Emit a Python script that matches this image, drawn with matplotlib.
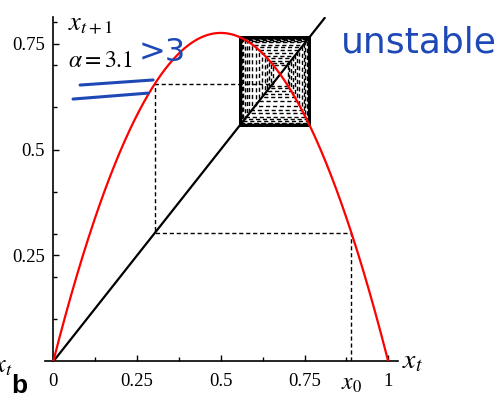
import numpy as np
import matplotlib
matplotlib.use('Agg')
import matplotlib.pyplot as plt

plt.rcParams['mathtext.fontset'] = 'stix'
plt.rcParams['font.family'] = ['Liberation Serif', 'DejaVu Serif']

# data
alpha = 3.1          # logistic map parameter
x0 = 0.89            # starting point
n_iter = 160         # number of cobweb steps
xticks = [0, 0.25, 0.5, 0.75, 1]
xticklabels = ['0', '0.25', '0.5', '0.75', '1']
yticks = [0.25, 0.5, 0.75]
yticklabels = ['0.25', '0.5', '0.75']

ink = '#1d48b5'


def logistic(x, a):
    """ logistic map x_{t+1} = a x_t (1 - x_t) """
    return a * x * (1 - x)


fig = plt.figure(figsize=(5.01, 4.03), dpi=100)
ax = fig.add_axes([0.0896, 0.103, 0.7054, 0.8548])

# a. cobweb
xs, ys = [x0], [0.0]
x = x0
for i in range(n_iter):
    y = logistic(x, alpha)
    xs += [x, y]
    ys += [y, y]
    x = y
ax.plot(xs, ys, color='black', lw=1.0, ls=(0, (3, 2)), zorder=1)

# b. diagonal and map
ax.plot([0, 0.81], [0, 0.81], color='black', lw=1.6, zorder=2)
grid = np.linspace(0, 1, 400)
ax.plot(grid, logistic(grid, alpha), color='red', lw=1.6, zorder=3)

# c. axes
ax.set_xlim(-0.025, 1.03)
ax.set_ylim(0, 0.8125)
for s in ['top', 'right']:
    ax.spines[s].set_visible(False)
ax.spines['left'].set_position(('data', 0))
ax.spines['left'].set_bounds(0, 0.8125)
for s in ['left', 'bottom']:
    ax.spines[s].set_linewidth(1.2)

ax.set_xticks(xticks)
ax.set_xticklabels(xticklabels)
ax.set_xticks(np.arange(0, 1.01, 0.125), minor=True)
ax.set_yticks(yticks)
ax.set_yticklabels(yticklabels)
ax.set_yticks(np.arange(0.1, 0.81, 0.1), minor=True)
ax.tick_params(which='both', direction='in', labelsize=13.5, width=1.0)
ax.tick_params(which='major', length=4)
ax.tick_params(which='minor', length=3)
ax.tick_params(axis='x', which='both', pad=8)
ax.tick_params(axis='y', which='both', pad=6)

# d. labels
ax.text(0.045, 0.818, r'$x_{t+1}$', fontsize=19, va='top', ha='left', clip_on=False)
ax.text(0.045, 0.708, r'$\alpha = 3.1$', fontsize=17, va='center', ha='left')
ax.text(1.04, 0.0, r'$x_t$', fontsize=20, va='center', ha='left', clip_on=False)
ax.text(x0, -0.03, r'$x_0$', fontsize=17, va='top', ha='center', clip_on=False)
fig.text(0.022, 0.025, 'b', fontsize=19, fontweight='bold', family='Liberation Sans')
fig.text(0.026, 0.09, r'$x_t$', fontsize=19, ha='right', va='center')

# e. handwritten notes
ax.text(0.255, 0.728, '>3', fontsize=23, color=ink, va='center', ha='left',
        family='DejaVu Sans')
ax.text(0.86, 0.752, 'unstable', fontsize=26, color=ink, va='center', ha='left',
        family='DejaVu Sans', clip_on=False)
ax.plot([0.08, 0.298], [0.652, 0.664], color=ink, lw=2.2, solid_capstyle='round', zorder=4)
ax.plot([0.059, 0.283], [0.619, 0.633], color=ink, lw=2.2, solid_capstyle='round', zorder=4)

fig.savefig('out.png', dpi=100)
